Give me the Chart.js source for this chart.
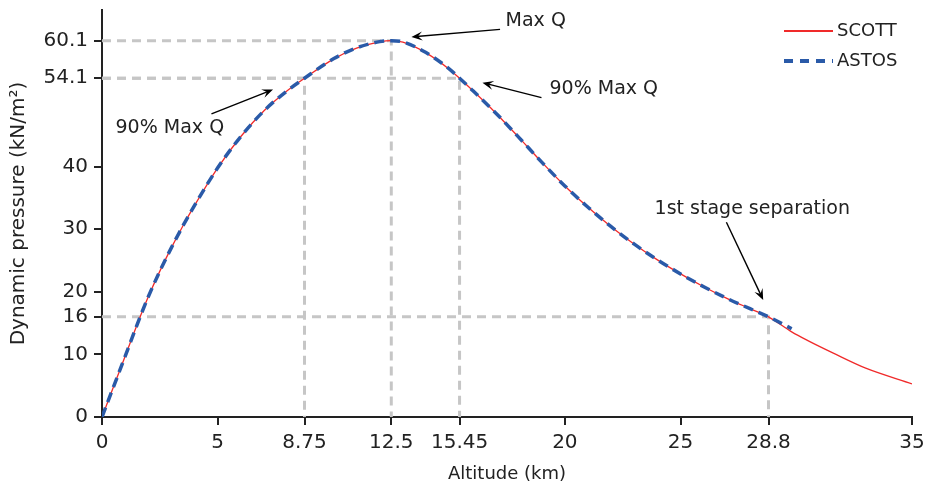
<!DOCTYPE html>
<html>
<head>
<meta charset="utf-8">
<title>Dynamic pressure vs altitude</title>
<script src="https://cdn.jsdelivr.net/npm/chart.js@4.4.1/dist/chart.umd.min.js"></script>
<style>
  html, body { margin: 0; padding: 0; background: #fff; }
  #wrap { width: 927px; height: 485px; position: relative; }
</style>
</head>
<body>
<div id="wrap"><canvas id="myChart"></canvas></div>
<script>
// SCOTT simulation: altitude (km) vs dynamic pressure (kN/m2)
const scottAltitude = [0, 1, 1.67, 2, 2.5, 3, 3.5, 4, 5, 6, 7, 8, 8.75, 10, 11, 12, 12.5, 13, 14, 15, 15.45, 16, 17, 18, 19, 20, 21, 22, 23, 24, 25, 26, 27, 28, 28.8, 29.8, 30.5, 31.6, 33, 35];
const scottPressure = [0, 9.7, 16.2, 19.2, 23.3, 27.05, 30.55, 33.8, 39.8, 44.8, 48.9, 52.1, 54.1, 57.16, 58.9, 59.9, 60.1, 59.85, 58.15, 55.55, 54.1, 52.2, 48.6, 44.7, 40.7, 36.9, 33.5, 30.4, 27.6, 25.1, 22.85, 20.8, 18.95, 17.3, 16.0, 13.6, 12.2, 10.2, 7.8, 5.3];

// ASTOS simulation (stops shortly after 1st stage separation)
const astosAltitude = [0, 1, 1.67, 2, 2.5, 3, 3.5, 4, 5, 6, 7, 8, 8.75, 10, 11, 12, 12.5, 13, 14, 15, 15.45, 16, 17, 18, 19, 20, 21, 22, 23, 24, 25, 26, 27, 28, 28.8, 29.8];
const astosPressure = [0, 9.7, 16.2, 19.2, 23.3, 27.05, 30.55, 33.8, 39.8, 44.8, 48.9, 52.1, 54.1, 57.2, 58.95, 59.95, 60.1, 59.9, 58.2, 55.6, 54.1, 52.2, 48.6, 44.7, 40.7, 36.9, 33.5, 30.4, 27.6, 25.1, 22.85, 20.8, 18.95, 17.3, 16.0, 14.1];

// tick labels
const xTicks = [0, 5, 8.75, 12.5, 15.45, 20, 25, 28.8, 35];
const yTicks = [0, 10, 16, 20, 30, 40, 54.1, 60.1];

// marked events (dashed guides)
const markAltitude = [12.5, 15.45, 8.75, 28.8];
const markPressure = [60.1, 54.1, 54.1, 16];

// annotation texts + where they sit (data units)
const noteLabels = ["Max Q", "90% Max Q", "90% Max Q", "1st stage separation"];
const notes = [
  { text: [18.74, 63.2], from: [17.2, 61.9], to: [13.37, 60.7] },
  { text: [21.68, 52.4], from: [18.99, 51.0], to: [16.44, 53.4] },
  { text: [2.93, 46.1], from: [4.73, 48.4], to: [7.39, 52.3] },
  { text: [28.1, 33.2], from: [26.98, 31.1], to: [28.57, 18.7] },
];

const legendOrder = ["SCOTT", "ASTOS"];

const FONT = "'DejaVu Sans', sans-serif";
const INK = "#222";

function toPoints(xs, ys) {
  return xs.map((x, i) => ({ x: x, y: ys[i] }));
}

const guideSets = markAltitude.map((alt, i) => ({
  label: "guide" + i,
  data: [
    { x: 0, y: markPressure[i] },
    { x: alt, y: markPressure[i] },
    { x: alt, y: 0 },
  ],
  borderColor: "#c6c6c6",
  borderWidth: 3,
  borderDash: [9, 6],
  pointRadius: 0,
  tension: 0,
  order: 10,
}));

function drawArrow(ctx, x1, y1, x2, y2) {
  const ang = Math.atan2(y2 - y1, x2 - x1);
  const len = 11;
  const wid = 4.5;
  ctx.beginPath();
  ctx.moveTo(x1, y1);
  ctx.lineTo(x2 - Math.cos(ang) * 5, y2 - Math.sin(ang) * 5);
  ctx.stroke();
  ctx.save();
  ctx.translate(x2, y2);
  ctx.rotate(ang);
  ctx.beginPath();
  ctx.moveTo(0, 0);
  ctx.lineTo(-len, -wid);
  ctx.lineTo(-len * 0.6, 0);
  ctx.lineTo(-len, wid);
  ctx.closePath();
  ctx.fill();
  ctx.restore();
}

const notesPlugin = {
  id: "notes",
  afterDatasetsDraw(chart) {
    const ctx = chart.ctx;
    const xs = chart.scales.x;
    const ys = chart.scales.y;
    ctx.save();
    ctx.lineWidth = 1.4;
    notes.forEach((n, i) => {
      ctx.strokeStyle = "#000";
      ctx.fillStyle = "#000";
      drawArrow(ctx,
        xs.getPixelForValue(n.from[0]), ys.getPixelForValue(n.from[1]),
        xs.getPixelForValue(n.to[0]), ys.getPixelForValue(n.to[1]));
      ctx.font = "19px " + FONT;
      ctx.fillStyle = INK;
      ctx.textAlign = "center";
      ctx.textBaseline = "middle";
      ctx.fillText(noteLabels[i], xs.getPixelForValue(n.text[0]), ys.getPixelForValue(n.text[1]));
    });

    // legend, top right
    const x0 = chart.chartArea.right - 128;
    legendOrder.forEach((name, i) => {
      const d = chart.data.datasets.find((s) => s.label === name);
      const y = chart.chartArea.top + 21 + i * 30;
      ctx.strokeStyle = d.borderColor;
      ctx.lineWidth = d.legendWidth;
      ctx.setLineDash(d.legendDash || []);
      ctx.beginPath();
      ctx.moveTo(x0, y);
      ctx.lineTo(x0 + 49, y);
      ctx.stroke();
      ctx.setLineDash([]);
      ctx.fillStyle = INK;
      ctx.font = "18px " + FONT;
      ctx.textAlign = "left";
      ctx.textBaseline = "middle";
      ctx.fillText(d.label, x0 + 53, y);
    });
    ctx.restore();
  },
};

const ctx = document.getElementById("myChart");

new Chart(ctx, {
  type: "line",
  data: {
    datasets: [
      {
        label: "ASTOS",
        data: toPoints(astosAltitude, astosPressure),
        borderColor: "#2a5aa8",
        borderWidth: 3.5,
        legendWidth: 4,
        borderDash: [10, 6],
        legendDash: [9, 7],
        pointRadius: 0,
        cubicInterpolationMode: "monotone",
        order: 1,
      },
      {
        label: "SCOTT",
        data: toPoints(scottAltitude, scottPressure),
        borderColor: "#f02a2a",
        borderWidth: 1.3,
        legendWidth: 2,
        pointRadius: 0,
        cubicInterpolationMode: "monotone",
        order: 2,
      },
      ...guideSets,
    ],
  },
  options: {
    responsive: true,
    maintainAspectRatio: false,
    animation: false,
    layout: { padding: { top: 10, right: 15, left: 0, bottom: 0 } },
    plugins: {
      legend: { display: false },
      tooltip: { enabled: false },
    },
    scales: {
      x: {
        type: "linear",
        min: 0,
        max: 35,
        afterBuildTicks: (scale) => {
          scale.ticks = xTicks.map((v) => ({ value: v }));
        },
        afterFit: (scale) => {
          scale.height = 68;
          scale.paddingLeft = 0;
          scale.paddingRight = 0;
        },
        ticks: {
          autoSkip: false,
          maxRotation: 0,
          padding: 6,
          color: INK,
          font: { family: FONT, size: 20 },
          callback: (v) => String(v),
        },
        grid: { drawOnChartArea: false, drawTicks: true, tickLength: 8, color: INK, lineWidth: 2 },
        border: { display: true, color: INK, width: 2 },
        title: {
          display: true,
          text: "Altitude (km)",
          color: INK,
          font: { family: FONT, size: 18 },
          padding: { top: 0, bottom: 0 },
        },
      },
      y: {
        type: "linear",
        min: 0,
        max: 65,
        afterBuildTicks: (scale) => {
          scale.ticks = yTicks.map((v) => ({ value: v }));
        },
        afterFit: (scale) => {
          scale.width = 102;
          scale.paddingTop = 0;
          scale.paddingBottom = 0;
        },
        ticks: {
          autoSkip: false,
          padding: 6,
          color: INK,
          font: { family: FONT, size: 20 },
          callback: (v) => String(v),
        },
        grid: { drawOnChartArea: false, drawTicks: true, tickLength: 8, color: INK, lineWidth: 2 },
        border: { display: true, color: INK, width: 2 },
        title: {
          display: true,
          text: "Dynamic pressure (kN/m²)",
          color: INK,
          font: { family: FONT, size: 20 },
          padding: { top: 7, bottom: 0 },
        },
      },
    },
  },
  plugins: [notesPlugin],
});
</script>
</body>
</html>
